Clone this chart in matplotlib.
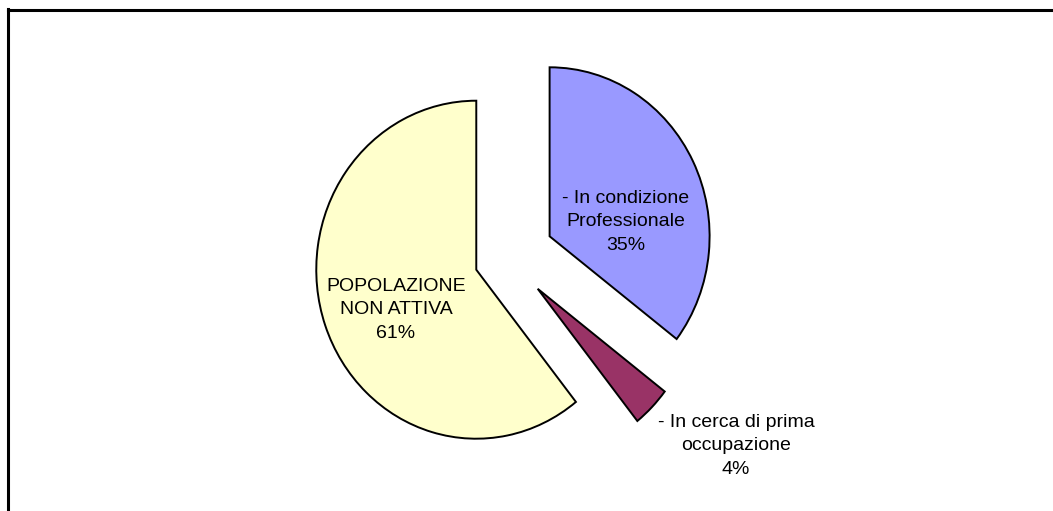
import matplotlib
matplotlib.use("Agg")
import matplotlib.pyplot as plt
from matplotlib.lines import Line2D

# ---- data ----
categories = ["- In condizione\nProfessionale", "- In cerca di prima\noccupazione", "POPOLAZIONE\nNON ATTIVA"]
values = [35.4, 3.9, 60.7]
colors = ["#9999FF", "#993366", "#FFFFCC"]
explode = [0.29, 0.26, 0.21]

W, H = 1053, 511
fig = plt.figure(figsize=(W / 100, H / 100), dpi=100)
ax = fig.add_axes([0, 0, 1, 1])

# pixel geometry of the pie (center and radii in pixels)
cx, cy = 508.0, 258.0
rx, ry = 160.0, 169.0

ax.pie(values, colors=colors, explode=explode, startangle=90, counterclock=False,
       radius=1.0, center=(0, 0), frame=False,
       wedgeprops=dict(edgecolor="black", linewidth=1.4))
ax.set_aspect("auto")
ax.set_xlim((0 - cx) / rx, (W - cx) / rx)
ax.set_ylim(-(H - cy) / ry, cy / ry)
ax.axis("off")

total = sum(values)
label_pos = [(626, 222), (736, 446), (396, 310)]
for cat, v, (px, py) in zip(categories, values, label_pos):
    pct = round(v / total * 100)
    fig.text(px / W, 1 - py / H, f"{cat}\n{pct}%", ha="center", va="center",
             fontsize=14, family="Liberation Sans", linespacing=1.5, color="black")

# partial frame border (top and left)
fig.add_artist(Line2D([7.5 / W, 7.5 / W], [0, 1 - 9 / H], transform=fig.transFigure,
                      color="black", linewidth=2.2, solid_capstyle="projecting"))
fig.add_artist(Line2D([7.5 / W, 1], [1 - 10 / H, 1 - 10 / H], transform=fig.transFigure,
                      color="black", linewidth=2.2, solid_capstyle="projecting"))

fig.savefig("out.png", dpi=100, facecolor="white")
